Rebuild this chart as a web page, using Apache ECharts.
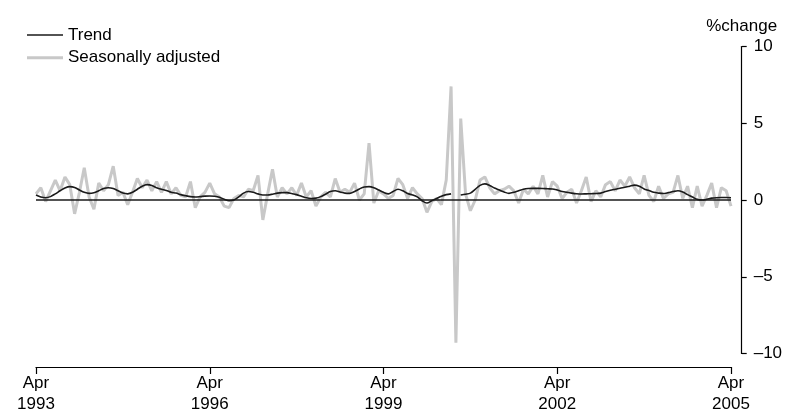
<!DOCTYPE html>
<html>
<head>
<meta charset="utf-8">
<script src="https://cdn.jsdelivr.net/npm/echarts@6/dist/echarts.min.js"></script>
<style>html,body{margin:0;padding:0;background:#fff}#c{width:791px;height:419px}</style>
</head>
<body>
<div id="c"></div>
<script>
// Monthly, Apr 1993 .. Apr 2005 (145 months)
const startYear = 1993, startMonth = 3; // April (0-based)
const monthNames = ['Jan','Feb','Mar','Apr','May','Jun','Jul','Aug','Sep','Oct','Nov','Dec'];
const tickLabels = ['Apr\n1993','Apr\n1996','Apr\n1999','Apr\n2002','Apr\n2005'];

const seasonallyAdjusted = [
  0.4, 0.8, -0.1, 0.6, 1.3, 0.6, 1.5, 1.0, -0.9, 0.5,
  2.1, 0.2, -0.6, 1.1, 0.6, 1.0, 2.2, 0.3, 0.5, -0.3,
  0.5, 1.4, 0.8, 1.3, 0.6, 1.2, 0.5, 1.2, 0.4, 0.8,
  0.3, 0.2, 1.2, -0.5, 0.2, 0.5, 1.1, 0.4, 0.2, -0.4,
  -0.5, 0.1, 0.3, 0.2, 0.7, 0.6, 1.6, -1.3, 0.4, 2.0,
  0.2, 0.8, 0.4, 0.8, 0.3, 1.1, 0.2, 0.6, -0.4, 0.2,
  0.5, 0.2, 1.4, 0.5, 0.7, 0.5, 1.1, 0.0, 0.4, 3.7,
  -0.2, 0.6, 0.4, 0.1, 0.3, 1.4, 1.0, 0.1, 0.8, 0.4,
  0.1, -0.8, -0.1, 0.1, -0.3, 1.3, 7.4, -9.3, 5.3, 0.4,
  -0.7, 0.0, 1.3, 1.5, 0.8, 0.4, 0.6, 0.7, 0.9, 0.6,
  -0.2, 0.7, 0.4, 0.9, 0.4, 1.6, 0.2, 1.2, 0.9, 0.1,
  0.5, 0.7, -0.2, 0.6, 1.5, -0.1, 0.6, 0.2, 1.0, 1.2,
  0.6, 1.3, 0.9, 1.5, 0.8, 0.4, 1.6, 0.3, -0.1, 0.9,
  0.1, 0.4, 0.5, 1.6, 0.1, 0.9, -0.5, 0.9, -0.4, 0.3,
  1.1, -0.5, 0.8, 0.6, -0.4
];

const trend = [
  0.33, 0.2, 0.15, 0.22, 0.4, 0.6, 0.78, 0.87, 0.82, 0.65,
  0.5, 0.43, 0.47, 0.6, 0.75, 0.8, 0.75, 0.6, 0.45, 0.4,
  0.5, 0.7, 0.9, 1.0, 0.95, 0.8, 0.7, 0.62, 0.5, 0.45,
  0.35, 0.28, 0.22, 0.2, 0.22, 0.25, 0.26, 0.24, 0.18, 0.05,
  -0.05, 0.0, 0.2, 0.45, 0.55, 0.5, 0.4, 0.33, 0.33, 0.38,
  0.45, 0.48, 0.48, 0.42, 0.35, 0.25, 0.15, 0.1, 0.12, 0.22,
  0.38, 0.55, 0.6, 0.52, 0.45, 0.43, 0.55, 0.72, 0.85, 0.87,
  0.8, 0.65, 0.5, 0.4, 0.55, 0.7, 0.6, 0.42, 0.33, 0.2,
  -0.05, -0.2, -0.05, 0.1, 0.25, 0.35, 0.4, null, 0.33, 0.38,
  0.45, 0.7, 0.95, 1.05, 0.95, 0.78, 0.65, 0.52, 0.43, 0.5,
  0.6, 0.7, 0.75, 0.76, 0.76, 0.75, 0.73, 0.72, 0.65, 0.56,
  0.5, 0.45, 0.41, 0.39, 0.4, 0.41, 0.42, 0.45, 0.55, 0.63,
  0.7, 0.77, 0.83, 0.9, 0.97, 0.9, 0.72, 0.62, 0.5, 0.45,
  0.42, 0.48, 0.55, 0.6, 0.52, 0.35, 0.2, 0.04, 0.0, 0.05,
  0.12, 0.15, 0.16, 0.16, 0.15
];

const categories = seasonallyAdjusted.map((_, i) => {
  const m = startMonth + i;
  return monthNames[m % 12] + ' ' + (startYear + Math.floor(m / 12));
});

const FONT = '"Liberation Sans", Arial, sans-serif';
const legendText = {fontFamily: FONT, fontSize: 17, color: '#000'};
const chart = echarts.init(document.getElementById('c'), null, {renderer: 'canvas'});
chart.setOption({
  animation: false,
  backgroundColor: '#ffffff',
  textStyle: {fontFamily: FONT, color: '#000'},
  grid: {left: 36, right: 60, top: 46.5, bottom: 65.5, containLabel: false},
  legend: [
    {
      left: 27, top: 26.5, padding: 0, itemWidth: 36, itemHeight: 1.6, icon: 'rect',
      textStyle: legendText, data: ['Trend']
    },
    {
      left: 27, top: 49.2, padding: 0, itemWidth: 36, itemHeight: 3, icon: 'rect',
      textStyle: legendText, data: ['Seasonally adjusted']
    }
  ],
  xAxis: {
    type: 'category', data: categories, boundaryGap: false, offset: 13.5,
    axisLine: {show: true, onZero: false, lineStyle: {color: '#000', width: 1.2}},
    axisTick: {show: true, length: 7, lineStyle: {color: '#000', width: 1.2},
      interval: (idx) => idx % 36 === 0},
    axisLabel: {
      interval: (idx) => idx % 36 === 0, margin: 6,
      fontFamily: FONT, fontSize: 17, lineHeight: 21, color: '#000',
      formatter: (v, idx) => tickLabels[idx / 36]
    },
    splitLine: {show: false}
  },
  yAxis: {
    type: 'value', position: 'right', min: -10, max: 10, interval: 5, offset: 10.7,
    name: '%change', nameLocation: 'end', nameGap: 12,
    nameTextStyle: {fontFamily: FONT, fontSize: 17, color: '#000', align: 'center'},
    axisLine: {show: true, onZero: false, lineStyle: {color: '#000', width: 1.2}},
    axisTick: {show: true, inside: false, length: 5, lineStyle: {color: '#000', width: 1.2}},
    axisLabel: {margin: 12, fontFamily: FONT, fontSize: 17, color: '#000',
      formatter: (v) => String(v).replace('-', '\u2013')},
    splitLine: {show: false}
  },
  series: [
    {
      name: 'Seasonally adjusted', type: 'line', data: seasonallyAdjusted,
      symbol: 'none', showSymbol: false, z: 2,
      lineStyle: {color: '#c8c8c8', width: 3},
      itemStyle: {color: '#c8c8c8'}
    },
    {
      name: 'Trend', type: 'line', data: trend, smooth: 0.3,
      symbol: 'none', showSymbol: false, connectNulls: false, z: 3,
      lineStyle: {color: '#1a1a1a', width: 1.6},
      itemStyle: {color: '#1a1a1a'},
      markLine: {
        silent: true, symbol: 'none', label: {show: false},
        lineStyle: {color: '#1a1a1a', width: 1.5, type: 'solid'},
        data: [{yAxis: 0}]
      }
    }
  ]
});
</script>
</body>
</html>
